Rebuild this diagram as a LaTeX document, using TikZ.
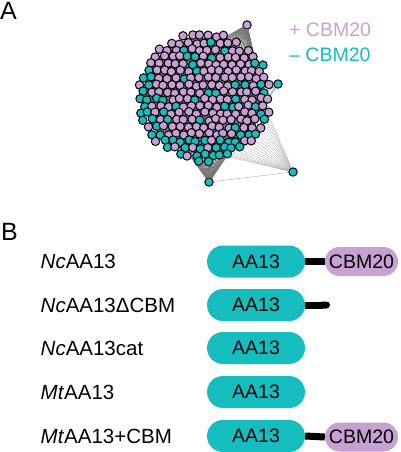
\documentclass[tikz,border=0pt]{standalone}
\usepackage{fontspec}
\setmainfont{Liberation Sans}
\usetikzlibrary{positioning,arrows.meta}
\definecolor{nteal}{RGB}{22,189,190}
\definecolor{nlilac}{RGB}{200,161,212}
\definecolor{edgegray}{RGB}{120,120,120}

\tikzset{
    figfont/.style={font=\fontsize{19.5}{23}\selectfont},
    netnode/.style={circle,draw=black,line width=1pt,minimum size=8.4pt,inner sep=0pt},
    dom/.style={figfont,fill=nteal,rounded corners=16pt,minimum width=98pt,minimum height=32pt,inner sep=0pt},
    cbmdom/.style={figfont,fill=nlilac,rounded corners=14.5pt,minimum width=73pt,minimum height=29pt,inner sep=0pt},
    protlabel/.style={font=\fontsize{20.5}{24}\selectfont,anchor=base west,inner sep=0pt},
    linker/.style={line width=7pt,black},
    fanline/.style={edgegray,line width=0.5pt}
}

\begin{document}
\begin{tikzpicture}[x=1pt,y=-1pt]
    \useasboundingbox (0,0) rectangle (400,452);
    % panel letters
    \node[anchor=base west,inner sep=0pt,font=\fontsize{25}{30}\selectfont] (pa) at (0,20) {A};
    \node[anchor=base west,inner sep=0pt,font=\fontsize{25}{30}\selectfont] (pb) at (1,240) {B};

    % network: outliers
    \node[netnode,fill=nlilac] (top) at (247,25) {};
    \node[netnode,fill=nteal] (right) at (278,84) {};
    \node[netnode,fill=nteal] (lowright) at (293,172) {};
    \node[netnode,fill=nteal] (low) at (209,182) {};

    % edges to the cluster rim
    \foreach \a in {-74,-72,...,-26}
        \coordinate (rt\a) at ({203.5+60*cos(\a)},{96+58*sin(\a)});
    \foreach \a in {-74,-72,...,-26}
        \draw[fanline,line width=0.9pt] (top) -- (rt\a);
    \foreach \a in {60,62,...,106}
        \coordinate (rl\a) at ({203.5+60*cos(\a)},{96+58*sin(\a)});
    \foreach \a in {60,62,...,106}
        \draw[fanline,line width=0.9pt] (low) -- (rl\a);
    \foreach \a in {2,6,...,86}
        \coordinate (rs\a) at ({203.5+58*cos(\a)},{96+56*sin(\a)});
    \foreach \a in {2,6,...,86}
        \draw[fanline,edgegray!60,line width=0.3pt] (lowright) -- (rs\a);
    \foreach \a in {-20,-10,...,20}
        \coordinate (rr\a) at ({203.5+58*cos(\a)},{96+56*sin(\a)});
    \foreach \a in {-20,-10,...,20}
        \draw[fanline,line width=0.4pt] (right) -- (rr\a);
    \draw[fanline,edgegray!60,line width=0.4pt] (lowright) -- (low);

    % dense edges inside the cluster
    \fill[edgegray] (203.5,96) ellipse [x radius=60, y radius=58];

    % cluster nodes
    \pgfmathsetseed{5}
    \foreach \j in {0,...,19}{
        \foreach \i in {0,...,18}{
            \pgfmathsetmacro{\cx}{132+8.0*\i+4.0*mod(\j,2)+2.6*(rnd-0.5)}
            \pgfmathsetmacro{\cy}{29+7.0*\j+2.6*(rnd-0.5)}
            \pgfmathsetmacro{\ux}{(\cx-203.5)/68}
            \pgfmathsetmacro{\vy}{(\cy-96)/66}
            \pgfmathsetmacro{\rad}{sqrt((\cx-203.5)^2/4624+(\cy-96)^2/4356)}
            \pgfmathtruncatemacro{\inside}{\rad<1 ? 1 : 0}
            \pgfmathsetmacro{\pteal}{(\rad>0.8 && ((\ux<-0.4 && \vy>-0.4) || \vy>0.5)) ? 0.85 : (\vy>0.6 ? 0.7 : ((\rad>0.8 && \ux>0.3 && \vy>0.2) ? 0.5 : 0.15))}
            \pgfmathtruncatemacro{\isteal}{rnd<\pteal ? 1 : 0}
            \ifnum\inside=1
                \ifnum\isteal=1 \def\nodecol{nteal}\else\def\nodecol{nlilac}\fi
                \node[netnode,fill=\nodecol] (n-\i-\j) at (\cx,\cy) {};
            \fi
        }
    }

    % legend
    \node[protlabel,figfont,text=nlilac] (plus) at (289,37) {+ CBM20};
    \node[protlabel,figfont,text=nteal] (minus) at (289,62) {– CBM20};

    % domain architectures
    \node[protlabel] (lab1) at (40.5,268) {\textit{Nc}AA13};
    \node[protlabel] (lab2) at (40.5,312) {\textit{Nc}AA13ΔCBM};
    \node[protlabel] (lab3) at (40.5,355) {\textit{Nc}AA13cat};
    \node[protlabel] (lab4) at (40.5,399) {\textit{Mt}AA13};
    \node[protlabel] (lab5) at (40.5,443) {\textit{Mt}AA13+CBM};

    \node[dom] (aa1) at (256,261.5) {AA13};
    \node[cbmdom] (cbm1) at (361.5,261.5) {CBM20};
    \draw[linker] (aa1.east) -- (cbm1.west);

    \node[dom] (aa2) at (256,305) {AA13};
    \coordinate (end2) at (330,305);
    \draw[linker,-{Round Cap[]}] (aa2.east) -- (end2);

    \node[dom] (aa3) at (256,348) {AA13};
    \node[dom] (aa4) at (256,392) {AA13};

    \node[dom] (aa5) at (256,436) {AA13};
    \node[cbmdom] (cbm5) at (361.5,437) {CBM20};
    \draw[linker] (aa5.east) -- (cbm5.west);
\end{tikzpicture}
\end{document}
